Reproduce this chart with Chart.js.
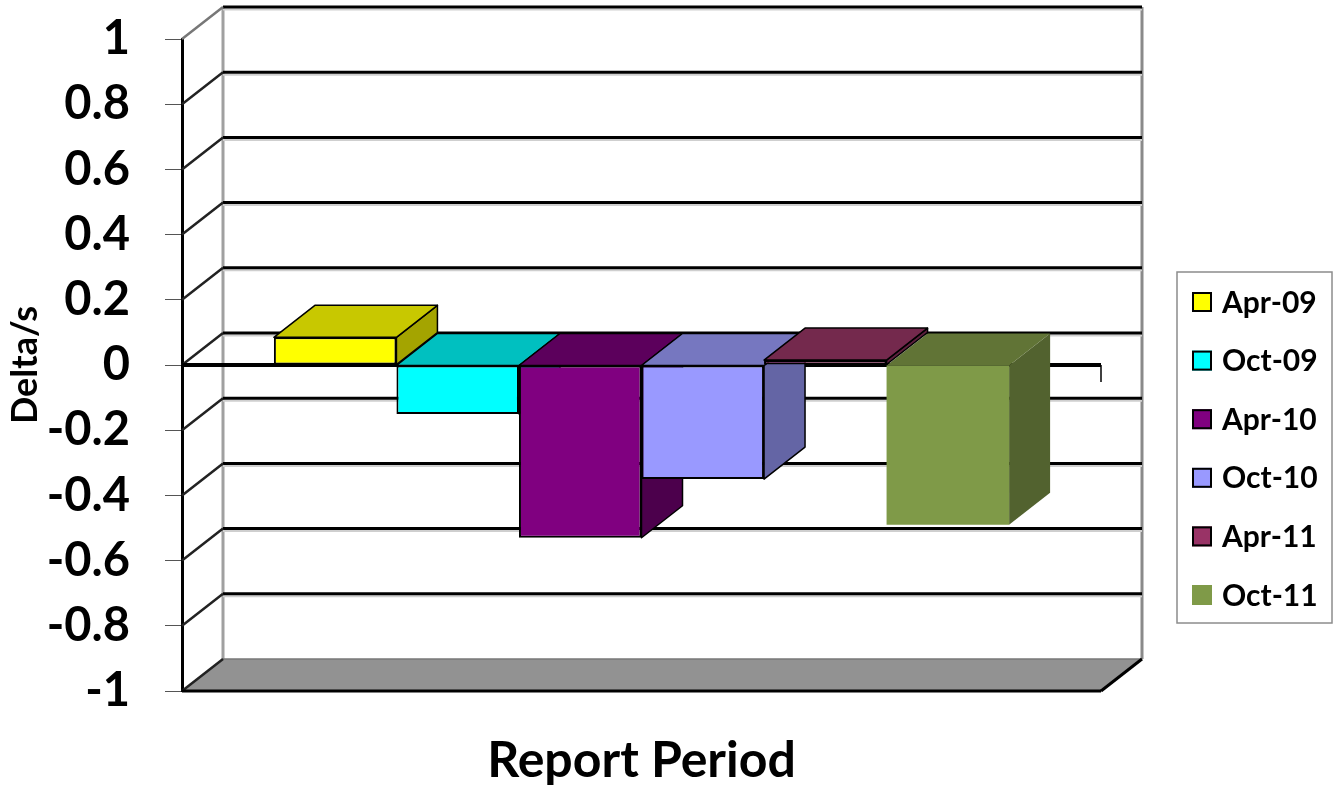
<!DOCTYPE html>
<html>
<head>
<meta charset="utf-8">
<script src="https://cdn.jsdelivr.net/npm/chart.js@4.4.1/dist/chart.umd.min.js"></script>
<style>
  html, body { margin: 0; padding: 0; background: #fff; }
  #wrap { width: 1340px; height: 797px; }
</style>
</head>
<body>
<div id="wrap"><canvas id="deltaChart" width="1340" height="797"></canvas></div>
<script>
const categories = [''];
const periods = ['Apr-09', 'Oct-09', 'Apr-10', 'Oct-10', 'Apr-11', 'Oct-11'];
const deltas = [0.085, -0.15, -0.53, -0.35, 0.015, -0.49];
const yTicks = [1, 0.8, 0.6, 0.4, 0.2, 0, -0.2, -0.4, -0.6, -0.8, -1];

// front, top and side shades of each column
const frontColors = ['#ffff00', '#00ffff', '#800080', '#9999ff', '#993366', '#7f9a48'];
const topColors = ['#c8c800', '#00c0c0', '#5c005c', '#7677c0', '#74294d', '#617436'];
const sideColors = ['#a4a400', '#00a0a0', '#4c004c', '#6465a5', '#5c1f3d', '#52622f'];
const outlined = [true, true, true, true, true, false];

// how far the back wall sits from the front plane
const DEPTH_X = 41;
const DEPTH_Y = -32;

const FONT = 'Lato';

function seg(ctx, x1, y1, x2, y2, color, w) {
  ctx.beginPath();
  ctx.moveTo(x1, y1);
  ctx.lineTo(x2, y2);
  ctx.strokeStyle = color;
  ctx.lineWidth = w;
  ctx.stroke();
}

function poly(ctx, pts, fill, stroke) {
  ctx.beginPath();
  ctx.moveTo(pts[0][0], pts[0][1]);
  for (let i = 1; i < pts.length; i++) ctx.lineTo(pts[i][0], pts[i][1]);
  ctx.closePath();
  ctx.fillStyle = fill;
  ctx.fill();
  if (stroke) {
    ctx.strokeStyle = '#000';
    ctx.lineWidth = 1.5;
    ctx.lineJoin = 'round';
    ctx.stroke();
  }
}

// walls, floor and the depth faces of the columns
const box3d = {
  id: 'box3d',
  beforeDatasetsDraw(chart) {
    const { ctx, chartArea: a } = chart;
    const y = chart.scales.y;
    const dx = DEPTH_X, dy = DEPTH_Y;
    const top = y.getPixelForValue(1);
    const floor = y.getPixelForValue(-1);
    ctx.save();

    // floor
    poly(ctx, [[a.left, floor], [a.right, floor], [a.right + dx, floor + dy], [a.left + dx, floor + dy]], '#929292', false);

    // back wall edges
    seg(ctx, a.left + dx, top + dy, a.left + dx, floor + dy, '#a0a0a0', 3);
    seg(ctx, a.right + dx, top + dy, a.right + dx, floor + dy, '#8a8a8a', 3);

    // gridlines on back wall and left wall
    yTicks.forEach(v => {
      const py = y.getPixelForValue(v);
      if (v > -1) {
        seg(ctx, a.left + dx, py + dy + 2.5, a.right + dx, py + dy + 2.5, '#cfcfcf', 2);
        seg(ctx, a.left + dx, py + dy, a.right + dx, py + dy, '#000', 3);
      } else {
        seg(ctx, a.left + dx, py + dy, a.right + dx, py + dy, '#777', 1.5);
      }
      seg(ctx, a.left, py, a.left + dx, py + dy, v === 1 ? '#777' : '#222', 2.5);
    });

    // floor front and right edges
    seg(ctx, a.left, floor, a.right, floor, '#000', 3);
    seg(ctx, a.right, floor, a.right + dx, floor + dy, '#000', 3);

    // zero line across the front
    const z = y.getPixelForValue(0);
    seg(ctx, a.left, z, a.right, z, '#000', 4);
    seg(ctx, a.right, z, a.right, z + 17, '#000', 1.5);

    const bars = chart.data.datasets.map((ds, i) => {
      const el = chart.getDatasetMeta(i).data[0];
      const l = el.x - el.width / 2, r = el.x + el.width / 2;
      const t = Math.min(el.y, el.base), b = Math.max(el.y, el.base);
      return { i, l, r, t, b, neg: ds.data[0] < 0 };
    });
    const side = o => poly(ctx, [[o.r, o.t], [o.r + dx, o.t + dy], [o.r + dx, o.b + dy], [o.r, o.b]], sideColors[o.i], outlined[o.i]);
    const lid = o => poly(ctx, [[o.l, o.t], [o.r, o.t], [o.r + dx, o.t + dy], [o.l + dx, o.t + dy]], topColors[o.i], outlined[o.i]);

    // columns below zero first, their lids sit on the zero plane
    bars.filter(o => o.neg).forEach(side);
    bars.filter(o => o.neg).forEach(lid);
    bars.filter(o => !o.neg).forEach(o => { side(o); lid(o); });

    ctx.restore();
  }
};

// boxed legend on the right
const legendBox = {
  id: 'legendBox',
  afterDraw(chart) {
    const ctx = chart.ctx;
    const x0 = chart.chartArea.right + 76;
    ctx.save();
    ctx.strokeStyle = '#8c8c8c';
    ctx.lineWidth = 1.5;
    ctx.strokeRect(x0, 272, 155, 351);
    ctx.font = 'bold 30px ' + FONT;
    ctx.textBaseline = 'middle';
    chart.data.datasets.forEach((ds, i) => {
      const cy = 302 + i * 58.6;
      ctx.fillStyle = ds.backgroundColor;
      ctx.fillRect(x0 + 15, cy - 10, 20, 20);
      if (outlined[i]) {
        ctx.strokeStyle = '#000';
        ctx.lineWidth = 2;
        ctx.strokeRect(x0 + 16, cy - 9, 18, 18);
      }
      ctx.fillStyle = '#000';
      ctx.fillText(ds.label, x0 + 45, cy + 1);
    });
    ctx.restore();
  }
};

new Chart(document.getElementById('deltaChart'), {
  type: 'bar',
  data: {
    labels: categories,
    datasets: periods.map((p, i) => ({
      label: p,
      data: [deltas[i]],
      backgroundColor: frontColors[i],
      borderColor: '#000',
      borderWidth: outlined[i] ? 2 : 0,
      borderSkipped: false
    }))
  },
  options: {
    responsive: false,
    animation: false,
    layout: { padding: { top: 39, right: 239, left: 0, bottom: 0 } },
    datasets: { bar: { categoryPercentage: 0.8, barPercentage: 1 } },
    plugins: { legend: { display: false }, tooltip: { enabled: false } },
    scales: {
      x: {
        grid: { display: false, drawTicks: false },
        border: { display: false },
        ticks: { display: false },
        title: {
          display: true,
          text: 'Report Period',
          color: '#000',
          font: { family: FONT, size: 50, weight: 'bold' },
          padding: { top: 0, bottom: 6 }
        },
        afterFit: s => { s.height = 106; }
      },
      y: {
        min: -1,
        max: 1,
        afterBuildTicks: s => { s.ticks = yTicks.map(v => ({ value: v })); },
        ticks: {
          callback: v => String(v),
          color: '#000',
          font: { family: FONT, size: 47, weight: 'bold' },
          padding: 35
        },
        grid: { drawOnChartArea: false, tickLength: 17, color: '#555', lineWidth: 1 },
        border: { display: true, color: '#000', width: 3 },
        title: {
          display: true,
          text: 'Delta/s',
          color: '#000',
          font: { family: FONT, size: 36, weight: 'bold' },
          padding: { top: 4, bottom: 0 }
        },
        afterFit: s => {
          s.width = 182;
          // labels may overhang the plot edges, the top padding already leaves room
          s.paddingTop = 0;
          s.paddingBottom = 0;
        }
      }
    }
  },
  plugins: [box3d, legendBox]
});
</script>
</body>
</html>
